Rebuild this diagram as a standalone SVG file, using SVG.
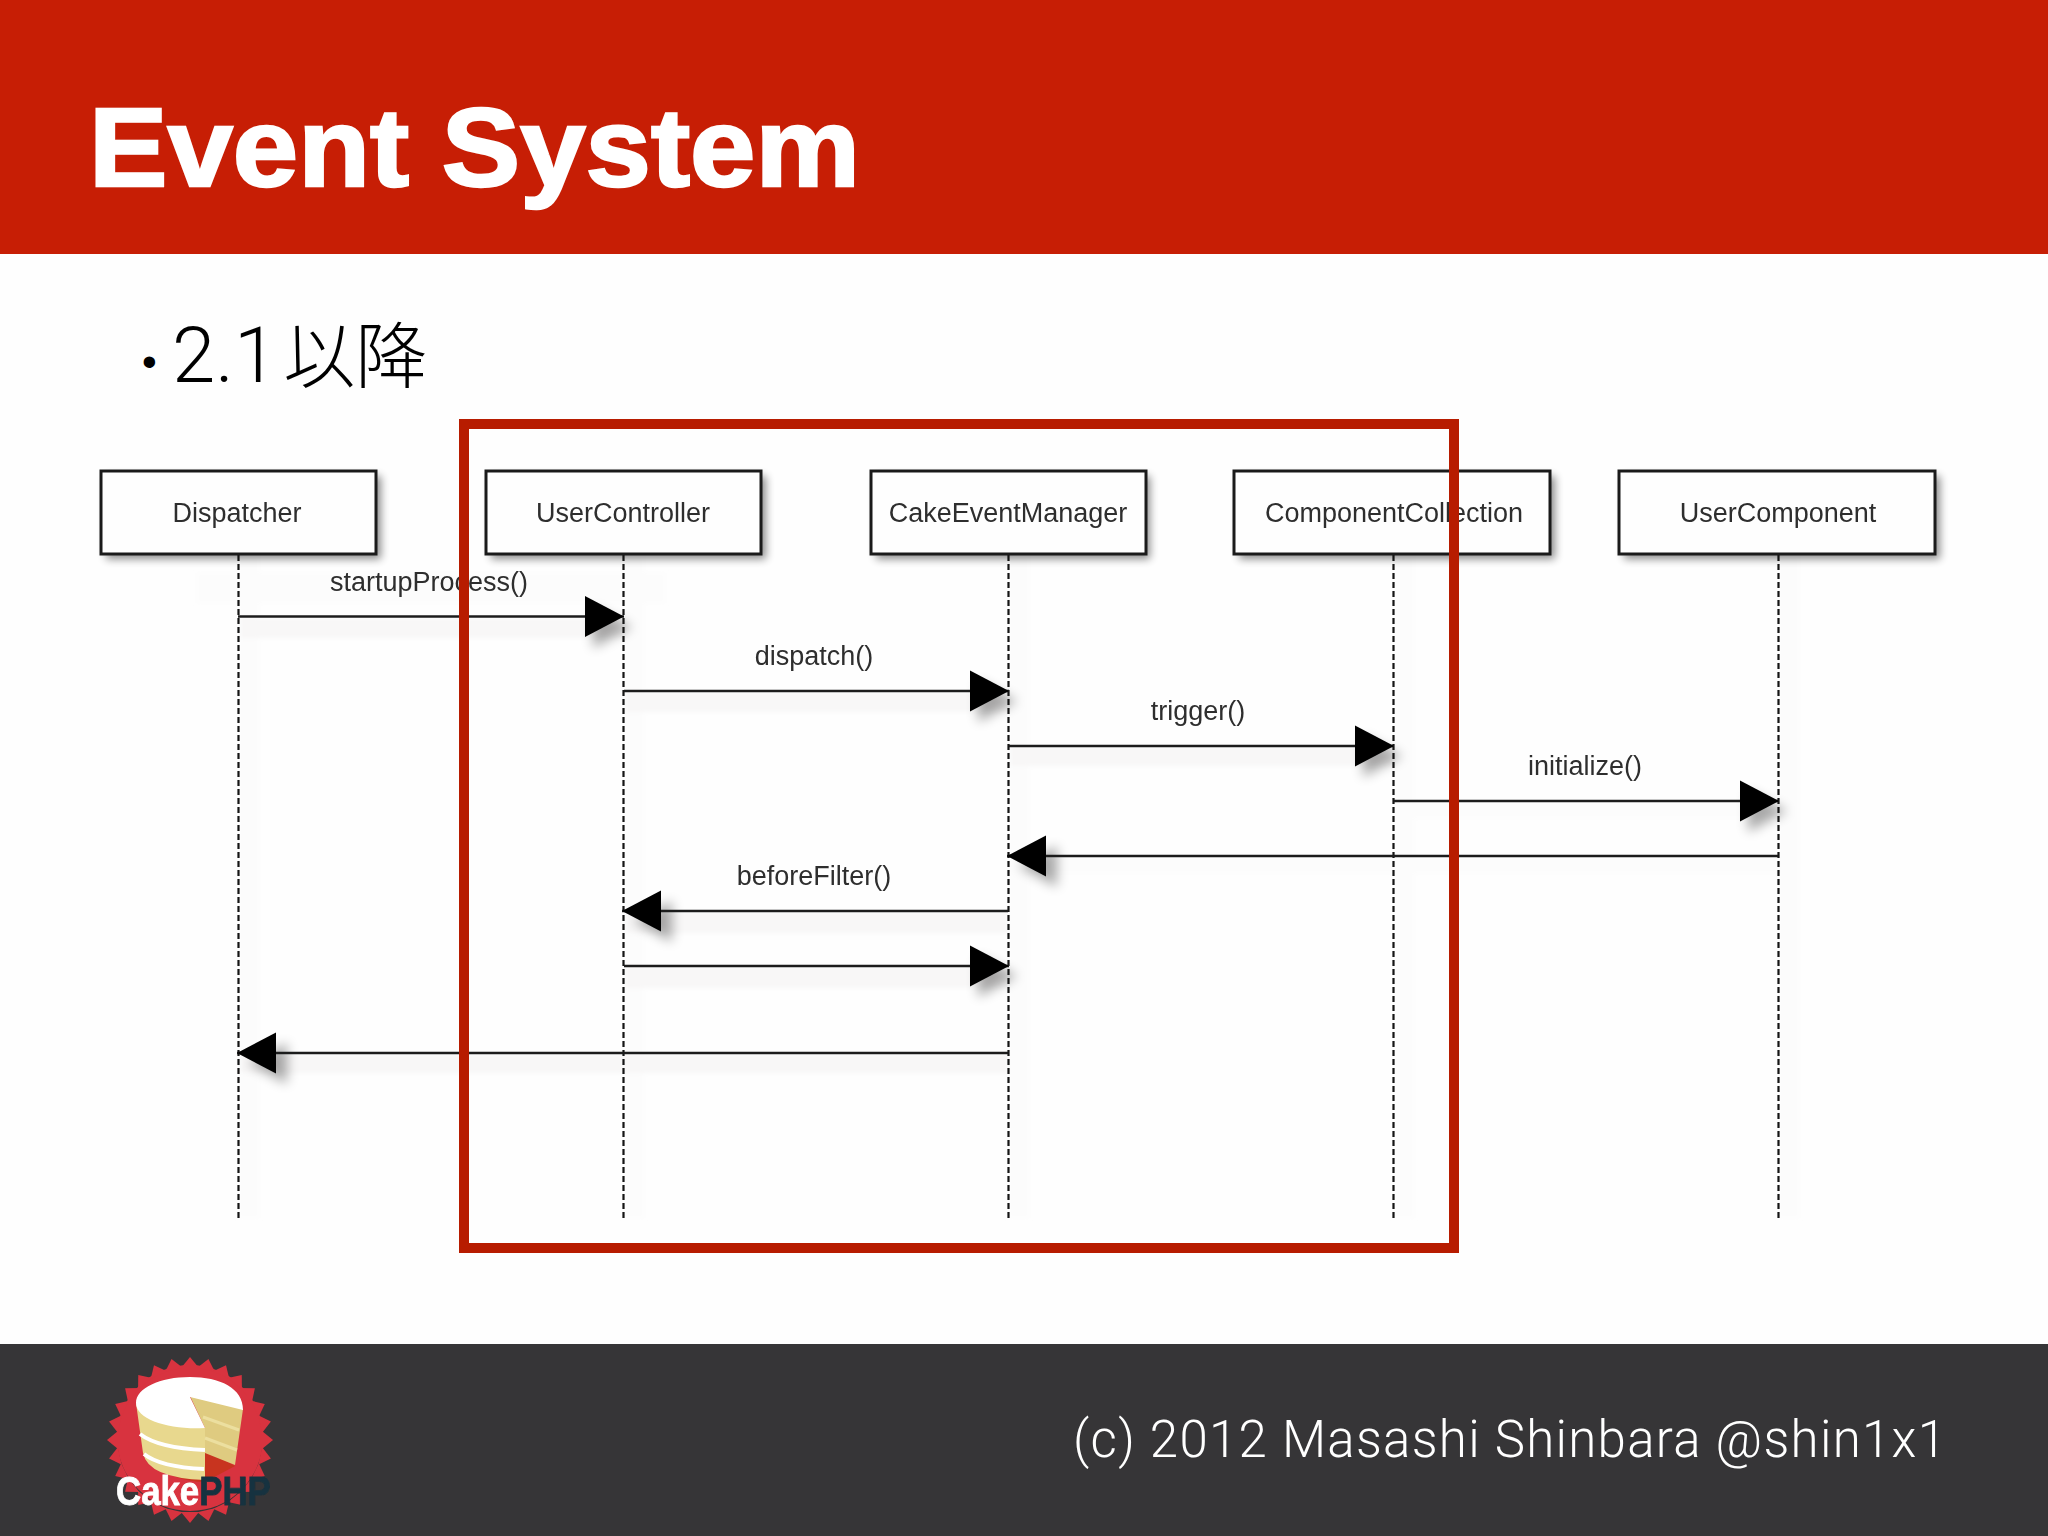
<svg xmlns="http://www.w3.org/2000/svg" width="2048" height="1536" viewBox="0 0 2048 1536">
<style>
.box{fill:#fefefe;stroke:#1a1a1a;stroke-width:3}
.lbl{font-family:"Liberation Sans",Arial,sans-serif;font-size:27px;fill:#2e2e2e;text-anchor:middle}
.life{stroke:#151515;stroke-width:2.2;stroke-dasharray:6 3;fill:none}
.msg{stroke:#1c1c1c;stroke-width:2.6;fill:none}
.soft{filter:url(#b1)}
.band{fill:#f8f7f7}
.lband{fill:#fcfcfc}
</style>
<defs>
<filter id="b1" x="-20%" y="-20%" width="140%" height="140%"><feGaussianBlur stdDeviation="0.7"/></filter>
<filter id="b2" x="-5%" y="-5%" width="110%" height="110%"><feGaussianBlur stdDeviation="2"/></filter>
<filter id="b5" x="-30%" y="-30%" width="160%" height="160%"><feGaussianBlur stdDeviation="4"/></filter>
<filter id="b6" x="-40%" y="-40%" width="180%" height="180%"><feGaussianBlur stdDeviation="6"/></filter>
<marker id="head" markerUnits="userSpaceOnUse" markerWidth="42" markerHeight="44" refX="40" refY="21.5" orient="auto">
<polygon points="1,1 40,21.5 1,42" fill="#000"/>
</marker>
<polygon id="tooth" points="-9,-72 0,-83 9,-72" fill="#d8333f"/>
</defs>
<rect width="2048" height="1536" fill="#fefefe"/>
<rect id="header" width="2048" height="254" fill="#c71e05"/>
<text id="title" x="89" y="186" font-family="'Liberation Sans',Arial,sans-serif" font-weight="700" font-size="111" fill="#fff" stroke="#fff" stroke-width="2.5" textLength="771" lengthAdjust="spacingAndGlyphs">Event System</text>
<text id="bullet" x="142" y="376" font-family="'Liberation Sans',Arial,sans-serif" font-size="42" fill="#000">•</text>
<text id="subtitle" x="172" y="382" font-family="Roboto,'Noto Sans CJK JP',sans-serif" font-weight="300" font-size="78" fill="#000">2.1<tspan dx="6" font-family="'Noto Sans CJK JP',sans-serif" font-size="72" font-weight="300">以降</tspan></text>

<g id="diagram-shadows">
<g filter="url(#b2)">
<rect class="lband" x="239" y="556" width="20" height="662"/>
<rect class="lband" x="624" y="556" width="20" height="662"/>
<rect class="lband" x="1009" y="556" width="20" height="662"/>
<rect class="lband" x="1394" y="556" width="20" height="662"/>
<rect class="lband" x="1779" y="556" width="20" height="662"/>
<rect x="197" y="573" width="468" height="30" fill="#fcfcfc"/>
<rect class="band" x="240" y="618" width="385" height="20"/>
<rect class="band" x="625" y="692" width="383" height="20"/>
<rect class="band" x="1010" y="747" width="383" height="19"/>
<rect class="lband" x="1395" y="802" width="383" height="16"/>
<rect class="lband" x="1010" y="857" width="768" height="16"/>
<rect class="band" x="625" y="912" width="383" height="21"/>
<rect class="band" x="625" y="967" width="383" height="21"/>
<rect class="band" x="240" y="1054" width="768" height="19"/>
</g>
<g fill="#000" opacity="0.33" filter="url(#b6)">
<polygon points="593,607 632,627 593,648"/>
<polygon points="978,681 1017,701 978,722"/>
<polygon points="1363,736 1402,756 1363,777"/>
<polygon points="1748,791 1787,811 1748,832"/>
<polygon points="1018,866 1057,846 1057,887"/>
<polygon points="633,921 672,901 672,942"/>
<polygon points="978,956 1017,976 978,997"/>
<polygon points="248,1063 287,1043 287,1084"/>
</g>
</g>

<g id="node-dispatcher">
<rect x="106" y="476" width="275" height="83" fill="#000" opacity="0.45" filter="url(#b5)"/>
<rect class="box" x="101" y="471" width="275" height="83"/>
<text class="lbl soft" x="237" y="522">Dispatcher</text>
<line class="life" x1="238.5" y1="555" x2="238.5" y2="1218"/>
</g>
<g id="node-usercontroller">
<rect x="491" y="476" width="275" height="83" fill="#000" opacity="0.45" filter="url(#b5)"/>
<rect class="box" x="486" y="471" width="275" height="83"/>
<text class="lbl soft" x="623" y="522">UserController</text>
<line class="life" x1="623.5" y1="555" x2="623.5" y2="1218"/>
</g>
<g id="node-cakeeventmanager">
<rect x="876" y="476" width="274" height="83" fill="#000" opacity="0.45" filter="url(#b5)"/>
<rect class="box" x="871" y="471" width="275" height="83"/>
<text class="lbl soft" x="1008" y="522">CakeEventManager</text>
<line class="life" x1="1008.5" y1="555" x2="1008.5" y2="1218"/>
</g>
<g id="node-componentcollection">
<rect x="1239" y="476" width="316" height="83" fill="#000" opacity="0.45" filter="url(#b5)"/>
<rect class="box" x="1234" y="471" width="316" height="83"/>
<text class="lbl soft" x="1394" y="522">ComponentCollection</text>
<line class="life" x1="1393.5" y1="555" x2="1393.5" y2="1218"/>
</g>
<g id="node-usercomponent">
<rect x="1624" y="476" width="316" height="83" fill="#000" opacity="0.45" filter="url(#b5)"/>
<rect class="box" x="1619" y="471" width="316" height="83"/>
<text class="lbl soft" x="1778" y="522">UserComponent</text>
<line class="life" x1="1778.5" y1="555" x2="1778.5" y2="1218"/>
</g>

<g id="connectors">
<line class="msg" x1="238" y1="616.5" x2="624" y2="616.5" marker-end="url(#head)"/>
<line class="msg" x1="624" y1="691" x2="1009" y2="691" marker-end="url(#head)"/>
<line class="msg" x1="1009" y1="746" x2="1394" y2="746" marker-end="url(#head)"/>
<line class="msg" x1="1394" y1="801" x2="1779" y2="801" marker-end="url(#head)"/>
<line class="msg" x1="1778" y1="856" x2="1007" y2="856" marker-end="url(#head)"/>
<line class="msg" x1="1008" y1="911" x2="622" y2="911" marker-end="url(#head)"/>
<line class="msg" x1="624" y1="966" x2="1009" y2="966" marker-end="url(#head)"/>
<line class="msg" x1="1008" y1="1053" x2="237" y2="1053" marker-end="url(#head)"/>
</g>
<g id="connector-labels">
<text class="lbl soft" x="429" y="591">startupProcess()</text>
<text class="lbl soft" x="814" y="665">dispatch()</text>
<text class="lbl soft" x="1198" y="720">trigger()</text>
<text class="lbl soft" x="1585" y="775">initialize()</text>
<text class="lbl soft" x="814" y="885">beforeFilter()</text>
</g>

<rect id="highlight" x="464" y="424" width="990" height="824" fill="none" stroke="#b71c00" stroke-width="10"/>

<rect id="footer" y="1344" width="2048" height="192" fill="#363537"/>
<g id="logo">
<circle cx="190" cy="1438" r="73" fill="#d8333f"/>
<g transform="translate(190 1440)">
<use href="#tooth"/><use href="#tooth" transform="rotate(12.86)"/><use href="#tooth" transform="rotate(25.71)"/><use href="#tooth" transform="rotate(38.57)"/><use href="#tooth" transform="rotate(51.43)"/><use href="#tooth" transform="rotate(64.29)"/><use href="#tooth" transform="rotate(77.14)"/><use href="#tooth" transform="rotate(90)"/><use href="#tooth" transform="rotate(102.86)"/><use href="#tooth" transform="rotate(115.71)"/><use href="#tooth" transform="rotate(128.57)"/><use href="#tooth" transform="rotate(141.43)"/><use href="#tooth" transform="rotate(154.29)"/><use href="#tooth" transform="rotate(167.14)"/><use href="#tooth" transform="rotate(180)"/><use href="#tooth" transform="rotate(192.86)"/><use href="#tooth" transform="rotate(205.71)"/><use href="#tooth" transform="rotate(218.57)"/><use href="#tooth" transform="rotate(231.43)"/><use href="#tooth" transform="rotate(244.29)"/><use href="#tooth" transform="rotate(257.14)"/><use href="#tooth" transform="rotate(270)"/><use href="#tooth" transform="rotate(282.86)"/><use href="#tooth" transform="rotate(295.71)"/><use href="#tooth" transform="rotate(308.57)"/><use href="#tooth" transform="rotate(321.43)"/><use href="#tooth" transform="rotate(334.29)"/><use href="#tooth" transform="rotate(347.14)"/>
</g>
<path d="M150 1462Q175 1482 205 1482L235 1466L205 1450Z" fill="#c8341f"/>
<path d="M136 1403L143 1453Q148 1478 205 1480L205 1428Q150 1428 136 1403Z" fill="#e8d88e"/>
<path d="M140 1434Q158 1448 205 1450" fill="none" stroke="#fff" stroke-width="4"/>
<path d="M144 1454Q160 1467 204 1469" fill="none" stroke="#fff" stroke-width="4"/>
<path d="M190 1396L243 1409L235 1465L205 1453L205 1428Z" fill="#dfcb80"/>
<path d="M203 1417L239 1430M205 1438L237 1450" fill="none" stroke="#ecdf9f" stroke-width="3"/>
<path d="M136 1403C136 1388 160 1377 190 1377C220 1377 243 1388 243 1410L190 1397L205 1428C170 1430 136 1420 136 1403Z" fill="#fff"/>
<text transform="translate(116 1505) scale(0.87 1)" font-family="'Liberation Sans',Arial,sans-serif" font-weight="700" font-size="40" fill="#fff" stroke="#fff" stroke-width="0.8" filter="url(#b1)">Cake<tspan fill="#16323f" stroke="#16323f">PHP</tspan></text>
</g>
<text id="copyright" x="1073" y="1457" font-family="Roboto,'Noto Sans',sans-serif" font-weight="300" font-size="51" fill="#fff" textLength="873" lengthAdjust="spacing">(c) 2012 Masashi Shinbara @shin1x1</text>
</svg>
